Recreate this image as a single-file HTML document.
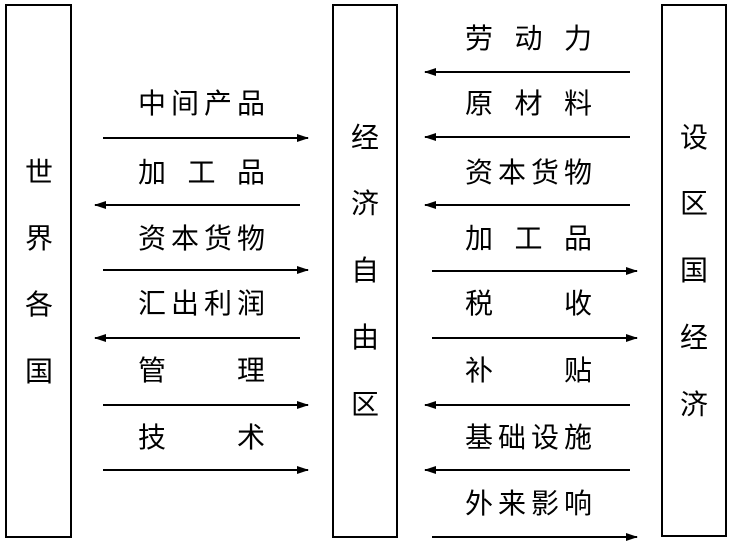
<!DOCTYPE html>
<html><head><meta charset="utf-8"><style>
body{margin:0;background:#fff}
</style></head><body>
<svg width="733" height="547" xmlns="http://www.w3.org/2000/svg" font-family="'Liberation Sans','Noto Sans CJK SC',sans-serif" font-size="28" fill="#000">
<defs>
<marker id="a" markerWidth="12" markerHeight="8" refX="11" refY="4" orient="auto" markerUnits="userSpaceOnUse"><path d="M0,0 L12,4 L0,8 Z" fill="#000"/></marker>
</defs>
<g fill="none" stroke="#000" stroke-width="2">
<rect x="6" y="5" width="65" height="532"/>
<rect x="333" y="5" width="64" height="532"/>
<rect x="662" y="5" width="64" height="531"/>
</g>
<g stroke="#000" stroke-width="2" marker-end="url(#a)">
<line x1="103" y1="138" x2="308" y2="138"/>
<line x1="300" y1="205" x2="95" y2="205"/>
<line x1="103" y1="270" x2="308" y2="270"/>
<line x1="300" y1="338" x2="95" y2="338"/>
<line x1="103" y1="405" x2="308" y2="405"/>
<line x1="103" y1="470" x2="308" y2="470"/>
<line x1="630" y1="72" x2="425" y2="72"/>
<line x1="630" y1="137" x2="425" y2="137"/>
<line x1="630" y1="205" x2="425" y2="205"/>
<line x1="432" y1="271" x2="637" y2="271"/>
<line x1="432" y1="338" x2="637" y2="338"/>
<line x1="630" y1="405" x2="425" y2="405"/>
<line x1="630" y1="470" x2="425" y2="470"/>
<line x1="432" y1="537" x2="637" y2="537"/>
</g>
<g text-anchor="middle">
<text x="39" y="182">世</text><text x="39" y="248">界</text><text x="39" y="314">各</text><text x="39" y="381">国</text>
<text x="365" y="147">经</text><text x="365" y="213">济</text><text x="365" y="280">自</text><text x="365" y="347">由</text><text x="365" y="414">区</text>
<text x="694" y="147">设</text><text x="694" y="213">区</text><text x="694" y="280">国</text><text x="694" y="347">经</text><text x="694" y="414">济</text>
</g>
<g>
<text x="138" y="113" textLength="127">中间产品</text>
<text x="138" y="182" textLength="127">加 工 品</text>
<text x="138" y="248" textLength="127">资本货物</text>
<text x="138" y="313" textLength="127">汇出利润</text>
<text x="138" y="380" textLength="127">管&#12288;&#12288;理</text>
<text x="138" y="447" textLength="127">技&#12288;&#12288;术</text>
<text x="465" y="48" textLength="127">劳 动 力</text>
<text x="465" y="113" textLength="127">原 材 料</text>
<text x="465" y="182" textLength="127">资本货物</text>
<text x="465" y="248" textLength="127">加 工 品</text>
<text x="465" y="313" textLength="127">税&#12288;&#12288;收</text>
<text x="465" y="380" textLength="127">补&#12288;&#12288;贴</text>
<text x="465" y="447" textLength="127">基础设施</text>
<text x="465" y="513" textLength="127">外来影响</text>
</g>
</svg>
</body></html>
